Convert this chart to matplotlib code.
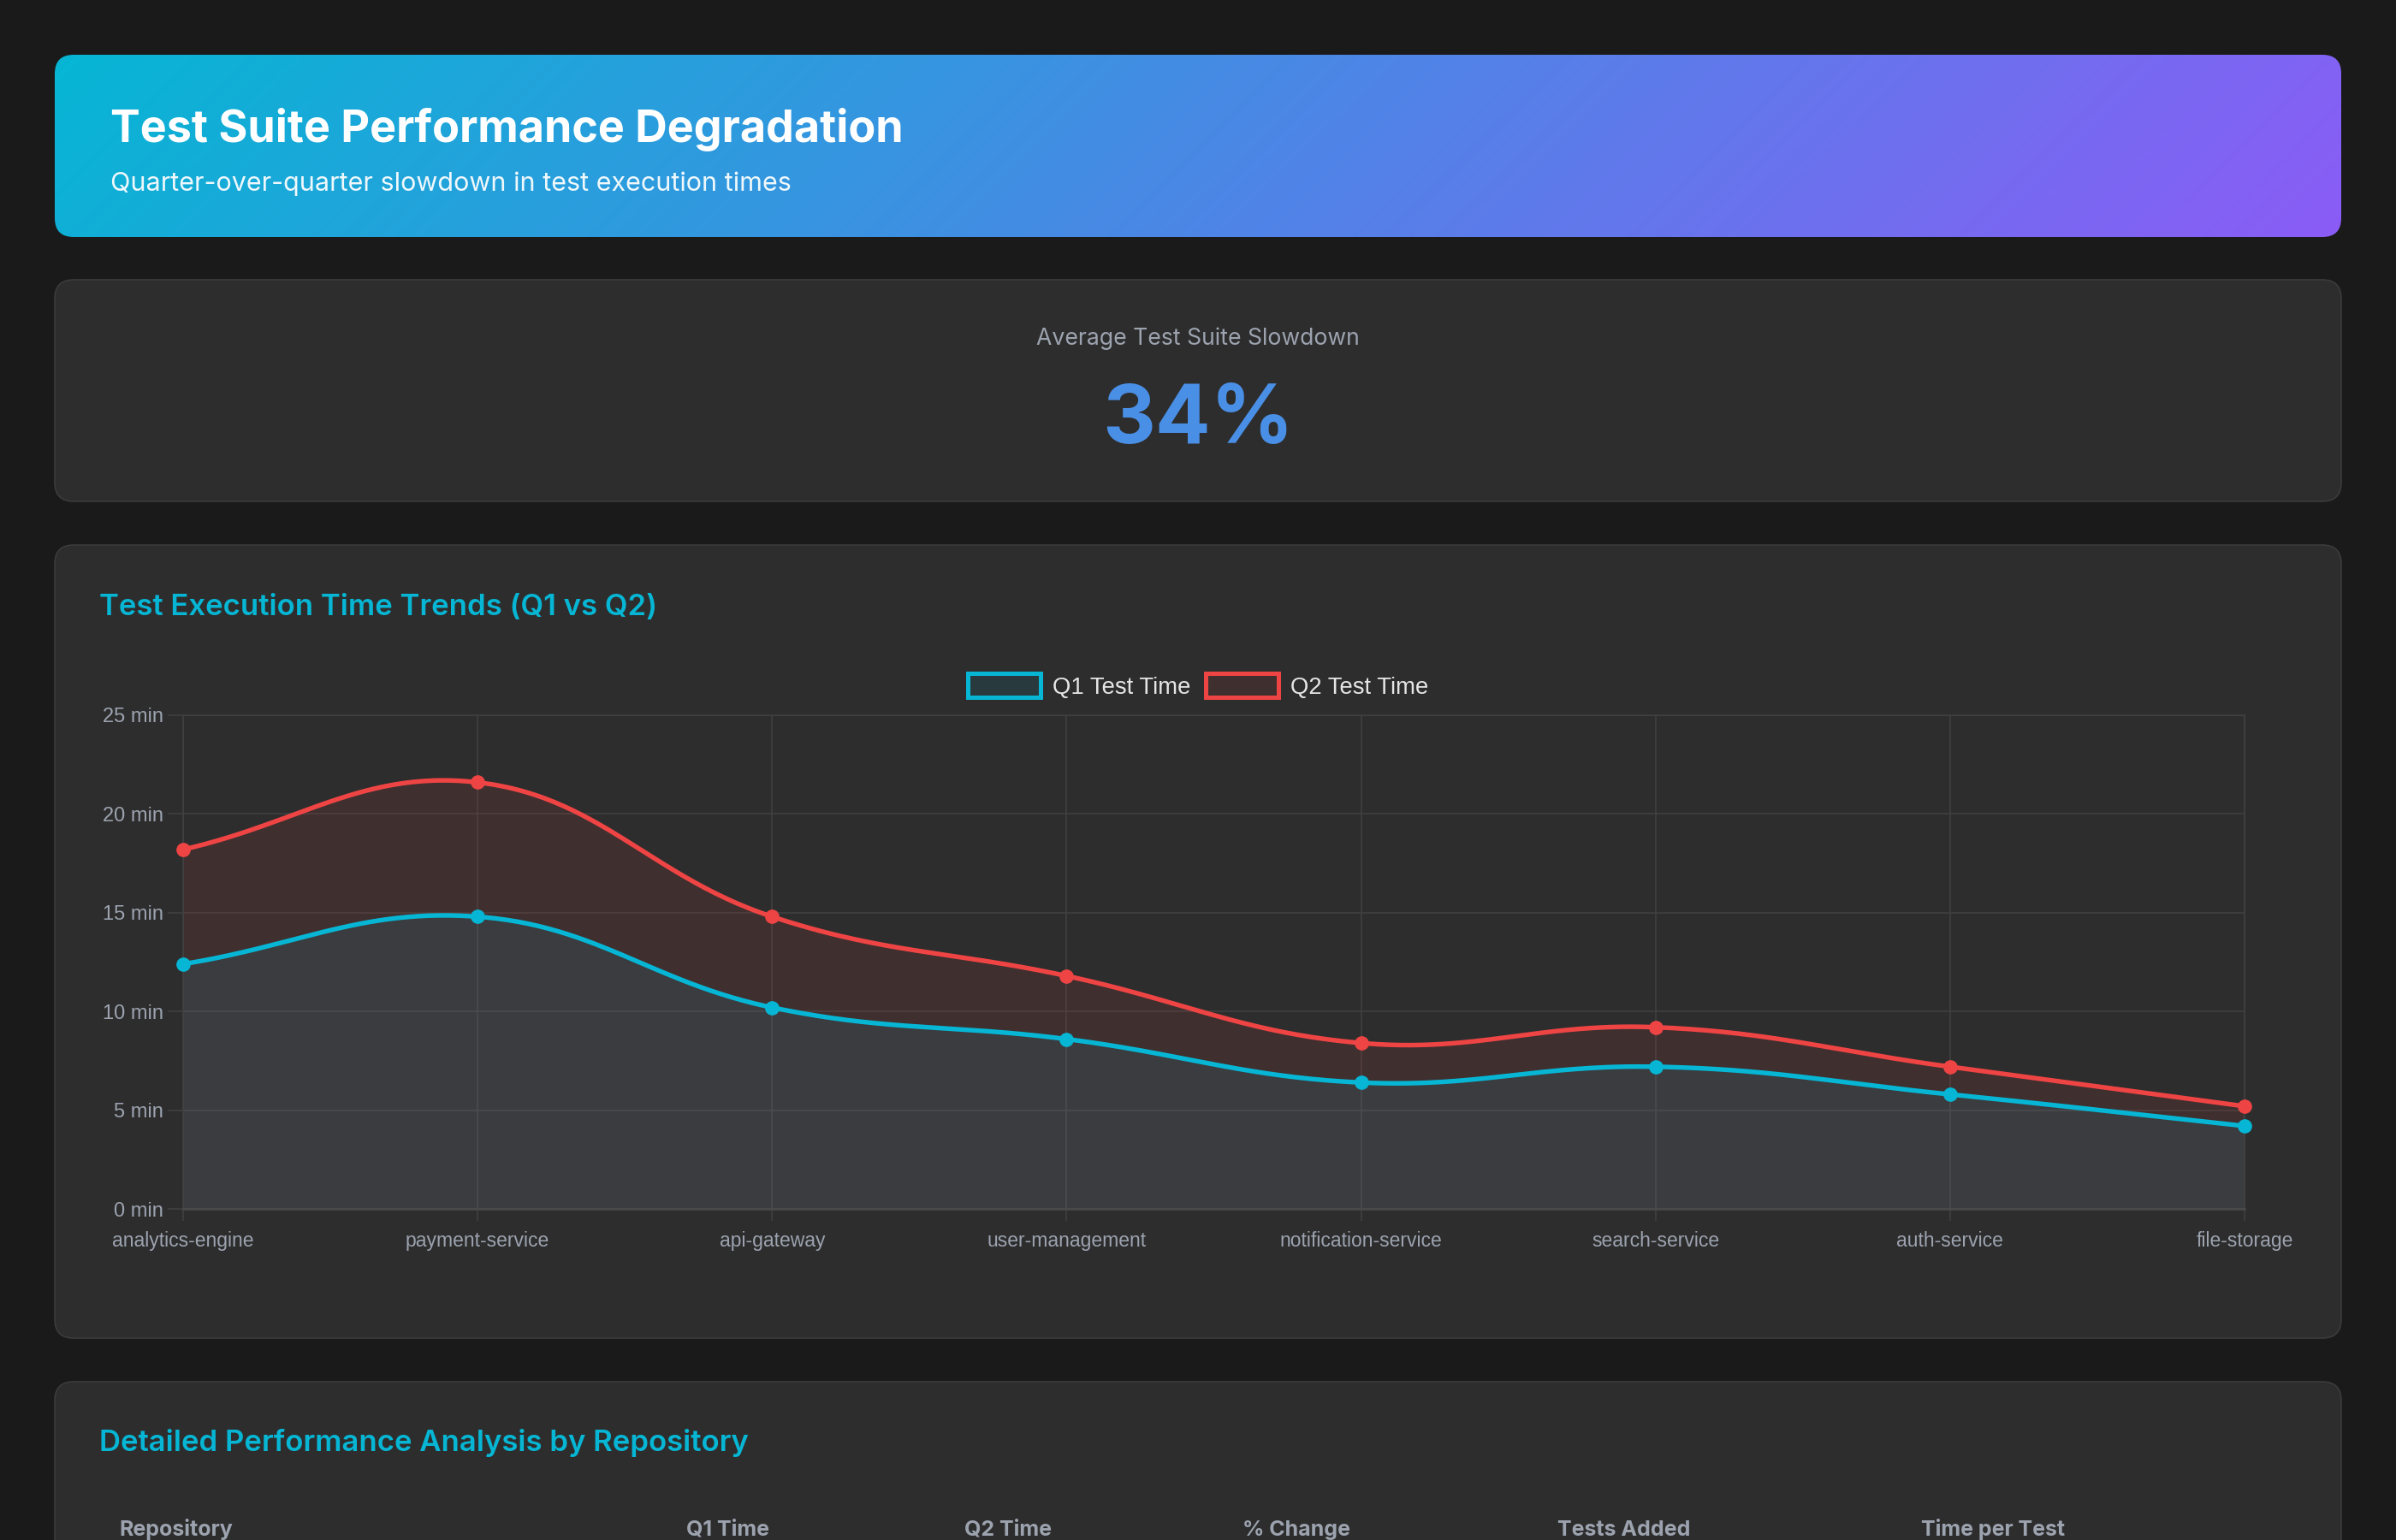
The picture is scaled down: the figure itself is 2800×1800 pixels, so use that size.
import numpy as np
import matplotlib
matplotlib.use("Agg")
from matplotlib import pyplot as plt
from matplotlib.patches import FancyBboxPatch, Patch

# data
categories = ['analytics-engine', 'payment-service', 'api-gateway', 'user-management',
              'notification-service', 'search-service', 'auth-service', 'file-storage']
q1_minutes = [12.4, 14.8, 10.2, 8.6, 6.4, 7.2, 5.8, 4.2]
q2_minutes = [18.2, 21.6, 14.8, 11.8, 8.4, 9.2, 7.2, 5.2]
y_ticks = [0, 5, 10, 15, 20, 25]
series_labels = ['Q1 Test Time', 'Q2 Test Time']
avg_slowdown = '34%'
table_columns = ['Repository', 'Q1 Time', 'Q2 Time', '% Change', 'Tests Added', 'Time per Test']

W, H = 2800, 1800
BG = '#1a1a1a'
CARD = '#2d2d2d'
CARD_EDGE = '#3b3b3b'
GRID = '#414141'
TICK_TXT = '#9ca3af'
CYAN = '#06b6d4'
RED = '#ef4444'
HTML_FONT = ['Inter', 'DejaVu Sans']
CHART_FONT = ['Liberation Sans', 'DejaVu Sans']

fig = plt.figure(figsize=(W / 100, H / 100), dpi=100, facecolor=BG)

# page layer in pixel coords (y down)
page = fig.add_axes([0, 0, 1, 1], zorder=0)
page.set_xlim(0, W)
page.set_ylim(H, 0)
page.axis('off')


def card(x0, y0, x1, y1, fc=CARD, ec=CARD_EDGE, lw=1.2):
    p = FancyBboxPatch((x0, y0), x1 - x0, y1 - y0, boxstyle='round,pad=0,rounding_size=22',
                       fc=fc, ec=ec, lw=lw)
    page.add_patch(p)
    return p


# header with diagonal gradient
hx0, hy0, hx1, hy1 = 64, 64, 2736, 277
hdr = card(hx0, hy0, hx1, hy1, fc='none', ec='none')
gx, gy = np.meshgrid(np.linspace(hx0, hx1, 600), np.linspace(hy0, hy1, 60))
t = ((gx - (hx0 + hx1) / 2) + (gy - (hy0 + hy1) / 2)) / ((hx1 - hx0) + (hy1 - hy0)) + 0.5
c0 = np.array([6, 182, 212]) / 255
c1 = np.array([139, 92, 246]) / 255
grad = c0[None, None, :] * (1 - t[..., None]) + c1[None, None, :] * t[..., None]
im = page.imshow(grad, extent=(hx0, hx1, hy1, hy0), aspect='auto', interpolation='bilinear', zorder=1)
im.set_clip_path(hdr)
page.set_xlim(0, W)
page.set_ylim(H, 0)

page.text(129, 166, 'Test Suite Performance Degradation', color='white', fontsize=37.5,
          fontweight='bold', family=HTML_FONT, va='baseline', zorder=3)
page.text(129, 223, 'Quarter-over-quarter slowdown in test execution times', color='#eef8fc',
          fontsize=22, family=HTML_FONT, va='baseline', zorder=3)

# stat card
card(64, 327, 2736, 586)
page.text(1400, 403, 'Average Test Suite Slowdown', color=TICK_TXT, fontsize=19.2,
          family=HTML_FONT, ha='center', va='baseline')
page.text(1400, 518, avg_slowdown, color='#4a8fe6', fontsize=69, fontweight='bold',
          family=HTML_FONT, ha='center', va='baseline')

# chart card
card(64, 637, 2736, 1564)
page.text(116, 719, 'Test Execution Time Trends (Q1 vs Q2)', color=CYAN, fontsize=25,
          fontweight='semibold', family=HTML_FONT, va='baseline')

# table card (runs off the bottom)
card(64, 1615, 2736, 1900)
page.text(116, 1696, 'Detailed Performance Analysis by Repository', color=CYAN, fontsize=25,
          fontweight='semibold', family=HTML_FONT, va='baseline')
col_x = [139, 802, 1127, 1452, 1820, 2245]
for cx, name in zip(col_x, table_columns):
    page.text(cx, 1795, name, color=TICK_TXT, fontsize=18, fontweight='bold',
              family=HTML_FONT, va='baseline')

# line chart
L, R, T, B = 214, 2623, 836, 1413
ax = fig.add_axes([L / W, 1 - B / H, (R - L) / W, (B - T) / H], zorder=2)
ax.set_facecolor('none')
xs = np.arange(len(categories))
ax.set_xlim(0, len(categories) - 1)
ax.set_ylim(0, 25)

p0 = ax.transData.transform((0, 0))
p1 = ax.transData.transform((1, 1))
sx, sy = p1 - p0


def chartjs_spline(xv, yv, tension=0.4, n=60):
    px = np.asarray(xv, float) * sx
    py = np.asarray(yv, float) * sy
    m = len(px)
    cp_in, cp_out = [], []
    for i in range(m):
        a = max(i - 1, 0)
        b = min(i + 1, m - 1)
        d01 = np.hypot(px[i] - px[a], py[i] - py[a])
        d12 = np.hypot(px[b] - px[i], py[b] - py[i])
        tot = d01 + d12
        s01 = d01 / tot if tot else 0
        s12 = d12 / tot if tot else 0
        fa, fb = tension * s01, tension * s12
        cp_in.append((px[i] - fa * (px[b] - px[a]), py[i] - fa * (py[b] - py[a])))
        cp_out.append((px[i] + fb * (px[b] - px[a]), py[i] + fb * (py[b] - py[a])))
    tt = np.linspace(0, 1, n)
    ox, oy = [], []
    for i in range(m - 1):
        P0 = np.array((px[i], py[i]))
        P1 = np.array(cp_out[i])
        P2 = np.array(cp_in[i + 1])
        P3 = np.array((px[i + 1], py[i + 1]))
        seg = ((1 - tt) ** 3)[:, None] * P0 + (3 * (1 - tt) ** 2 * tt)[:, None] * P1 \
            + (3 * (1 - tt) * tt ** 2)[:, None] * P2 + (tt ** 3)[:, None] * P3
        if i > 0:
            seg = seg[1:]
        ox.append(seg[:, 0])
        oy.append(seg[:, 1])
    return np.concatenate(ox) / sx, np.concatenate(oy) / sy


for vals, col, z in [(q2_minutes, RED, 3), (q1_minutes, CYAN, 4)]:
    cx, cy = chartjs_spline(xs, vals)
    ax.fill_between(cx, cy, 0, color=col, alpha=0.1, lw=0, zorder=z - 2)
    ax.plot(cx, cy, color=col, lw=3.9, zorder=z, solid_capstyle='round')
    ax.plot(xs, vals, 'o', color=col, ms=11, zorder=z + 0.5, clip_on=False)

ax.set_xticks(xs)
ax.set_xticklabels(categories)
ax.set_yticks(y_ticks)
ax.set_yticklabels([f'{v} min' for v in y_ticks])
ax.grid(True, color=GRID, lw=1.1)
ax.set_axisbelow(True)
for s in ax.spines.values():
    s.set_color(GRID)
    s.set_linewidth(1.1)
ax.spines['bottom'].set_color('#4a4a4a')
ax.spines['bottom'].set_linewidth(1.8)
ax.tick_params(axis='y', length=13, width=1.1, color=GRID, pad=3.5, labelsize=17,
               labelcolor=TICK_TXT)
ax.tick_params(axis='x', length=10, width=1.1, color=GRID, pad=9, labelsize=16.5,
               labelcolor=TICK_TXT)
for lab in ax.get_xticklabels() + ax.get_yticklabels():
    lab.set_family(CHART_FONT)

handles = [Patch(facecolor=(6 / 255, 182 / 255, 212 / 255, 0.1), edgecolor=CYAN, linewidth=3.6),
           Patch(facecolor=(239 / 255, 68 / 255, 68 / 255, 0.1), edgecolor=RED, linewidth=3.6)]
fig.legend(handles, series_labels, loc='center', bbox_to_anchor=(1400 / W, 1 - 802 / H),
           ncol=2, frameon=False, prop={'family': CHART_FONT, 'size': 19.8},
           handlelength=3.1, handleheight=1.2, handletextpad=0.5, columnspacing=0.65,
           labelcolor='#e5e5e5')

fig.savefig('out.png', dpi=100, facecolor=BG)
